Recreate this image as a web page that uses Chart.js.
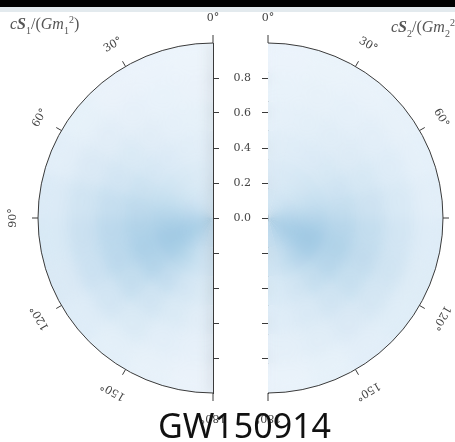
<!DOCTYPE html>
<html>
<head>
<meta charset="utf-8">
<script src="https://cdn.jsdelivr.net/npm/chart.js@4.4.1/dist/chart.umd.min.js"></script>
<style>
  body { margin: 0; background: #fff; width: 455px; height: 442px; overflow: hidden; position: relative; }
  .panel { position: absolute; top: 0; width: 240px; height: 442px; }
  .lbl { position: absolute; font-family: "Liberation Serif", serif; font-size: 16px; color: #555; white-space: nowrap; }
  .lbl sub, .lbl sup { font-size: 10px; font-style: normal; }
  #title { position: absolute; left: 158px; top: 402px; font-family: "Noto Sans", sans-serif; font-size: 34px; color: #111; white-space: nowrap; }
</style>
</head>
<body>
<div style="position:absolute;left:0;top:0;width:455px;height:7px;background:#000"></div>
<div style="position:absolute;left:0;top:7px;width:455px;height:5px;background:#e3eaee"></div>
<div class="panel" style="left:0"><canvas id="left"></canvas></div>
<div class="panel" style="left:215px"><canvas id="right"></canvas></div>
<div class="lbl" style="left:10px;top:14px"><i>c</i><b><i>S</i></b><sub>1</sub>/(<i>Gm</i><sub>1</sub><sup>2</sup>)</div>
<div class="lbl" style="left:391px;top:17px"><i>c</i><b><i>S</i></b><sub>2</sub>/(<i>Gm</i><sub>2</sub><sup>2</sup>)</div>
<div id="title">GW150914</div>
<script>
// bin edges: tilt angle (deg from the orbital axis) and spin magnitude
var tiltEdges = [0, 15, 30, 45, 60, 75, 90, 105, 120, 135, 150, 165, 180];
var magnitudeEdges = [0, 1/6, 2/6, 3/6, 4/6, 5/6, 1];
var angleTicks = [0, 30, 60, 90, 120, 150, 180];

// posterior density per cell, rows = magnitude bins (inner -> outer), cols = tilt bins
var s1Density = [
  [0.32, 0.34, 0.38, 0.45, 0.55, 0.68, 0.82, 0.92, 0.90, 0.75, 0.58, 0.48],
  [0.24, 0.27, 0.32, 0.40, 0.52, 0.70, 0.88, 1.00, 0.92, 0.72, 0.50, 0.38],
  [0.17, 0.20, 0.26, 0.34, 0.47, 0.64, 0.80, 0.86, 0.78, 0.57, 0.38, 0.27],
  [0.12, 0.14, 0.19, 0.27, 0.38, 0.54, 0.66, 0.66, 0.56, 0.40, 0.27, 0.19],
  [0.08, 0.10, 0.13, 0.19, 0.28, 0.40, 0.48, 0.46, 0.38, 0.27, 0.18, 0.13],
  [0.05, 0.06, 0.08, 0.12, 0.18, 0.26, 0.30, 0.28, 0.22, 0.16, 0.11, 0.08]
];
var s2Density = [
  [0.36, 0.37, 0.41, 0.47, 0.56, 0.69, 0.83, 0.93, 0.93, 0.82, 0.65, 0.53],
  [0.28, 0.30, 0.34, 0.40, 0.50, 0.64, 0.86, 1.00, 0.96, 0.78, 0.57, 0.43],
  [0.20, 0.22, 0.26, 0.32, 0.42, 0.56, 0.73, 0.80, 0.73, 0.56, 0.40, 0.30],
  [0.14, 0.16, 0.20, 0.24, 0.32, 0.44, 0.56, 0.59, 0.52, 0.40, 0.29, 0.22],
  [0.10, 0.11, 0.14, 0.17, 0.22, 0.30, 0.38, 0.40, 0.35, 0.28, 0.20, 0.15],
  [0.06, 0.07, 0.09, 0.11, 0.14, 0.18, 0.22, 0.23, 0.21, 0.17, 0.12, 0.09]
];

var lowColor = [240, 246, 252];
var highColor = [160, 201, 227];
var axisColor = '#3a3a3a';
var serif = '"DejaVu Serif", serif';

function blues(v) {
  var c = lowColor.map(function(lo, i) { return Math.round(lo + (highColor[i] - lo) * v); });
  return 'rgb(' + c.join(',') + ')';
}

function widths(edges) {
  var out = [];
  for (var i = 1; i < edges.length; i++) out.push(edges[i] - edges[i - 1]);
  return out;
}

// one ring per magnitude bin, outermost first; left half runs clockwise from 180 deg to 0
function buildDatasets(density, side) {
  var ringW = widths(magnitudeEdges);
  var sizes = widths(tiltEdges);
  var sets = [];
  for (var r = density.length - 1; r >= 0; r--) {
    var cols = density[r].map(blues);
    var data = sizes.slice();
    if (side == 'left') { cols.reverse(); data.reverse(); }
    sets.push({ data: data, backgroundColor: cols, borderWidth: 0, weight: ringW[r] * 6 });
  }
  return sets;
}

var diskDecor = {
  id: 'diskDecor',
  afterDatasetsDraw: function(chart, args, opts) {
    var arc = chart.getDatasetMeta(0).data[0];
    var ctx = chart.ctx;
    ctx.save();
    ctx.beginPath();
    ctx.moveTo(arc.x, arc.y - arc.outerRadius);
    ctx.arc(arc.x, arc.y, arc.outerRadius, -Math.PI / 2, Math.PI / 2, opts.side == 'left');
    ctx.closePath();
    ctx.clip();
    ctx.filter = 'blur(7px)';
    ctx.drawImage(chart.canvas, 0, 0, chart.width, chart.height);
    ctx.restore();
  },
  afterDraw: function(chart, args, opts) {
    var arc = chart.getDatasetMeta(0).data[0];
    var cx = arc.x, cy = arc.y, R = arc.outerRadius;
    var sgn = opts.side == 'left' ? -1 : 1;
    var ctx = chart.ctx;
    ctx.save();
    ctx.strokeStyle = axisColor;
    ctx.lineWidth = 1;
    ctx.beginPath();
    ctx.arc(cx, cy, R, -Math.PI / 2, Math.PI / 2, opts.side == 'left');
    ctx.stroke();
    ctx.font = '11px ' + serif;
    ctx.fillStyle = '#444';
    ctx.textAlign = 'center';
    ctx.textBaseline = 'middle';
    angleTicks.forEach(function(deg) {
      var t = deg * Math.PI / 180;
      var dx = sgn * Math.sin(t), dy = -Math.cos(t);
      var len = (deg == 0 || deg == 180) ? 8 : 6;
      ctx.beginPath();
      ctx.moveTo(cx + dx * R, cy + dy * R);
      ctx.lineTo(cx + dx * (R + len), cy + dy * (R + len));
      ctx.stroke();
      ctx.save();
      ctx.translate(cx + dx * (R + 25), cy + dy * (R + 25));
      ctx.rotate(sgn * t);
      ctx.fillText(deg + '\u00b0', 0, 0);
      ctx.restore();
    });
    ctx.restore();
  }
};

function magnitudeAxis(position, showLabels, width) {
  return {
    type: 'linear', position: position, min: -1, max: 1, z: 1,
    afterBuildTicks: function(s) { s.ticks = s.ticks.filter(function(t) { return Math.abs(t.value) < 0.99; }); },
    afterFit: function(s) { s.width = width; },
    ticks: {
      stepSize: 0.2, display: showLabels, padding: 11, color: '#444',
      font: { family: serif, size: 11 },
      callback: function(v) { return v > -0.01 ? (Math.round(v * 10) / 10).toFixed(1) : ''; }
    },
    grid: { drawOnChartArea: false, tickLength: 6, color: axisColor, tickColor: axisColor },
    border: { display: true, color: axisColor, width: 1 }
  };
}

function makeDisk(id, density, side, padding, axisWidth) {
  return new Chart(document.getElementById(id), {
    type: 'pie',
    data: { labels: tiltEdges.slice(1), datasets: buildDatasets(density, side) },
    options: {
      responsive: true, maintainAspectRatio: false, animation: false,
      rotation: side == 'left' ? 180 : 0, circumference: 180,
      layout: { padding: padding },
      scales: {
        x: { type: 'linear', display: false, min: -1, max: 1 },
        y: magnitudeAxis(side == 'left' ? 'right' : 'left', side != 'left', axisWidth)
      },
      plugins: { legend: { display: false }, tooltip: { enabled: false }, diskDecor: { side: side } }
    },
    plugins: [diskDecor]
  });
}

makeDisk('left', s1Density, 'left', { left: 38, right: 7, top: 43, bottom: 49 }, 20);
makeDisk('right', s2Density, 'right', { left: 5, right: 12, top: 43, bottom: 49 }, 48);
</script>
</body>
</html>
